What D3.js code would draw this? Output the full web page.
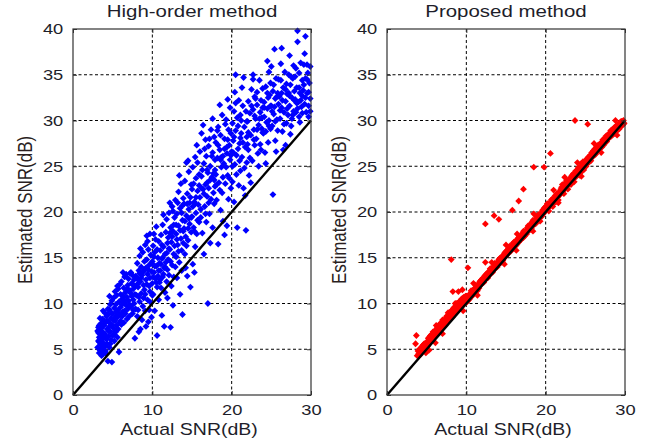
<!DOCTYPE html>
<html><head><meta charset="utf-8">
<script src="https://cdn.jsdelivr.net/npm/d3@7"></script>
<style>body{margin:0;background:#fff}svg{display:block}</style>
</head><body>
<script>
const titles = ["High-order method", "Proposed method"];
const xLabel = "Actual SNR(dB)";
const yLabel = "Estimated SNR(dB)";
const xTicks = [0, 10, 20, 30];
const yTicks = [0, 5, 10, 15, 20, 25, 30, 35, 40];
const refLine = [[0, 0], [30, 30]];

const highOrderPoints = [
[3.1,5.2],[3.2,6.8],[3.2,7.4],[3.3,4.6],[3.3,5.8],[3.3,6.3],[3.4,7.1],[3.4,4.9],[3.5,5.5],[3.5,6.6],[3.5,7.8],[3.6,4.3],[3.6,6.0],[3.6,7.3],[3.7,5.1],[3.7,6.9],[3.8,9.2],[3.8,5.7],[3.8,4.5],[3.9,6.4],[3.9,7.6],[3.9,8.1],[3.2,5.9],[3.4,6.1],[3.7,8.3],[3.1,7.0],[3.5,4.8],
[4.0,5.3],[4.0,6.7],[4.1,7.9],[4.1,4.8],[4.2,6.1],[4.2,8.6],[4.3,5.6],[4.3,7.2],[4.4,3.7],[4.4,9.4],[4.5,6.4],[4.5,8.0],[4.6,5.2],[4.6,7.5],[4.7,6.9],[4.7,9.9],[4.8,8.4],[4.8,6.0],[4.9,3.6],[4.9,7.7],[4.9,10.3],[4.2,4.5],[4.6,10.8],[4.4,8.8],
[5.0,6.5],[5.0,8.9],[5.1,7.3],[5.1,10.6],[5.2,5.9],[5.2,9.5],[5.3,8.1],[5.3,11.3],[5.4,6.9],[5.4,9.9],[5.5,7.6],[5.5,10.9],[5.6,8.5],[5.6,6.3],[5.7,9.3],[5.7,11.6],[5.8,4.7],[5.8,10.2],[5.9,7.9],[5.9,8.8],[5.3,7.0],[5.6,11.9],[5.9,12.1],
[6.0,9.6],[6.0,11.0],[6.1,7.7],[6.1,12.4],[6.2,8.6],[6.2,10.5],[6.3,13.4],[6.3,9.1],[6.4,11.7],[6.4,7.9],[6.5,10.1],[6.5,12.9],[6.6,8.9],[6.6,11.2],[6.7,9.8],[6.7,13.2],[6.8,10.7],[6.8,8.3],[6.9,12.0],[6.9,9.4],[6.3,10.8],[6.6,13.0],
[7.0,10.3],[7.0,12.7],[7.1,8.6],[7.2,11.4],[7.2,13.3],[7.3,9.7],[7.4,12.2],[7.4,10.8],[7.5,8.9],[7.5,13.1],[7.6,11.6],[7.7,10.0],[7.7,12.6],[7.8,6.2],[7.8,11.0],[7.9,9.4],[7.9,13.0],[7.3,13.4],[7.6,9.3],
[8.0,10.9],[8.0,12.9],[8.1,8.6],[8.1,14.4],[8.2,11.8],[8.3,6.9],[8.3,13.6],[8.4,10.2],[8.4,15.2],[8.5,7.2],[8.5,12.4],[8.6,11.1],[8.6,14.0],[8.7,8.2],[8.7,13.1],[8.8,9.7],[8.8,15.6],[8.9,12.0],[8.9,10.6],[8.2,9.3],[8.5,16.0],
[9.0,11.5],[9.0,13.7],[9.1,9.2],[9.1,16.4],[9.2,7.5],[9.2,12.6],[9.3,17.4],[9.3,14.8],[9.4,10.4],[9.4,13.2],[9.5,8.0],[9.5,15.9],[9.6,11.9],[9.6,14.2],[9.7,12.8],[9.7,17.6],[9.8,10.1],[9.8,15.3],[9.9,13.5],[9.9,8.5],[9.4,16.8],[9.6,9.3],
[10.0,12.2],[10.0,14.6],[10.1,11.0],[10.1,16.3],[10.2,13.4],[10.3,9.2],[10.3,15.6],[10.4,12.7],[10.4,17.0],[10.5,14.1],[10.6,6.5],[10.6,11.8],[10.7,15.0],[10.7,13.0],[10.8,16.8],[10.8,10.4],[10.9,14.4],[10.9,12.3],[10.2,17.6],[10.5,18.4],
[11.0,13.6],[11.0,15.8],[11.1,11.7],[11.1,17.5],[11.2,8.7],[11.2,14.9],[11.3,12.9],[11.3,18.6],[11.4,16.2],[11.5,7.5],[11.5,13.9],[11.6,15.4],[11.6,11.2],[11.7,17.8],[11.7,14.5],[11.8,12.4],[11.8,19.2],[11.9,16.6],[11.9,10.6],[11.4,19.7],
[12.0,14.8],[12.0,17.2],[12.1,13.1],[12.1,19.9],[12.2,15.9],[12.3,7.4],[12.3,18.3],[12.4,11.9],[12.4,16.7],[12.5,14.2],[12.5,20.6],[12.6,9.8],[12.6,17.9],[12.7,15.4],[12.7,12.9],[12.8,19.4],[12.8,16.3],[12.9,21.3],[12.9,14.0],[12.2,21.0],
[13.0,17.6],[13.0,15.1],[13.1,19.8],[13.1,12.8],[13.2,16.4],[13.3,22.2],[13.3,18.5],[13.4,14.5],[13.5,11.0],[13.5,20.4],[13.6,17.1],[13.6,23.1],[13.7,15.8],[13.8,8.8],[13.8,19.1],[13.9,21.5],[13.9,16.6],[13.4,24.0],[13.7,13.6],
[14.0,18.2],[14.0,20.9],[14.1,15.4],[14.1,23.4],[14.2,17.3],[14.3,25.4],[14.3,19.6],[14.4,13.0],[14.4,22.0],[14.5,16.9],[14.6,20.3],[14.6,24.4],[14.7,18.7],[14.8,11.8],[14.8,21.6],[14.9,17.8],[14.9,23.0],[14.5,25.6],[14.2,13.9],
[15.0,19.5],[15.0,22.5],[15.1,14.3],[15.1,24.9],[15.2,18.3],[15.3,13.4],[15.3,21.1],[15.4,26.0],[15.5,19.9],[15.5,23.7],[15.6,17.6],[15.7,22.3],[15.7,25.4],[15.8,20.8],[15.9,18.9],[15.9,24.1],[15.4,16.2],[15.6,27.3],
[16.0,21.6],[16.0,26.6],[16.1,19.4],[16.2,23.9],[16.2,28.6],[16.3,17.7],[16.4,22.5],[16.5,15.4],[16.5,25.3],[16.6,20.6],[16.7,27.9],[16.7,23.0],[16.8,18.9],[16.9,24.6],[16.9,21.7],[17.0,10.0],[16.4,29.5],[16.8,26.1],
[17.1,22.6],[17.1,27.2],[17.2,19.8],[17.3,25.0],[17.4,29.0],[17.4,21.4],[17.5,23.8],[17.6,18.3],[17.6,26.5],[17.7,24.2],[17.8,28.2],[17.8,20.9],[17.9,22.8],[17.9,25.7],[17.3,16.6],[17.6,30.2],
[18.0,24.1],[18.0,27.6],[18.1,21.3],[18.2,25.9],[18.3,16.5],[18.3,29.3],[18.4,23.2],[18.5,26.8],[18.6,20.2],[18.6,28.4],[18.7,24.9],[18.8,22.1],[18.8,30.6],[18.9,26.1],[18.9,19.0],[18.5,31.7],
[19.0,25.3],[19.1,17.5],[19.1,28.0],[19.2,23.1],[19.3,30.1],[19.4,18.5],[19.4,26.4],[19.5,24.0],[19.6,29.0],[19.6,21.4],[19.7,27.3],[19.8,31.4],[19.8,25.7],[19.9,22.6],[19.9,28.6],[19.5,32.3],
[20.0,26.6],[20.1,23.3],[20.1,29.7],[20.2,27.8],[20.3,21.1],[20.3,31.0],[20.4,25.2],[20.5,35.0],[20.5,28.9],[20.6,24.1],[20.7,18.3],[20.7,30.3],[20.8,26.9],[20.9,22.9],[20.9,32.2],[20.4,33.1],
[21.0,27.5],[21.1,30.6],[21.1,24.5],[21.2,28.6],[21.3,26.0],[21.4,31.6],[21.5,34.7],[21.5,22.6],[21.6,29.3],[21.7,27.1],[21.8,18.0],[21.8,31.0],[21.9,25.4],[21.9,28.2],[21.3,33.6],[21.7,21.8],
[22.0,29.9],[22.1,26.8],[22.1,32.1],[22.2,24.0],[22.3,30.8],[22.4,28.4],[22.5,33.4],[22.6,25.6],[22.7,35.0],[22.7,31.2],[22.7,34.5],[22.8,29.0],[22.9,27.3],[22.9,32.6],[22.4,23.2],
[23.0,30.2],[23.1,28.0],[23.2,31.7],[23.2,33.1],[23.3,26.4],[23.4,29.5],[23.5,34.4],[23.6,30.9],[23.6,27.4],[23.7,32.2],[23.8,29.1],[23.9,31.4],[23.9,33.5],[23.4,25.0],
[24.0,28.6],[24.1,32.0],[24.1,30.4],[24.2,26.5],[24.3,33.7],[24.4,29.8],[24.5,36.5],[24.5,31.3],[24.6,27.6],[24.7,35.3],[24.7,30.0],[24.8,32.8],[24.9,29.1],[24.9,34.1],[24.3,25.3],
[25.0,35.9],[25.0,31.6],[25.1,29.4],[25.2,21.9],[25.2,33.2],[25.3,30.7],[25.4,37.8],[25.5,32.4],[25.5,27.8],[25.6,34.6],[25.7,30.1],[25.8,33.0],[25.8,28.9],[25.9,31.8],[25.6,26.6],
[26.0,32.6],[26.1,30.2],[26.2,34.4],[26.3,37.9],[26.3,31.4],[26.4,28.8],[26.5,33.6],[26.6,30.9],[26.7,35.3],[26.8,32.1],[26.8,27.3],[26.9,34.0],[26.9,29.7],[26.5,26.8],[26.2,36.2],
[27.0,32.9],[27.1,30.6],[27.2,35.0],[27.3,37.1],[27.3,31.6],[27.4,33.9],[27.5,29.4],[27.6,32.5],[27.7,34.6],[27.8,31.0],[27.8,36.0],[27.9,33.2],[27.4,28.5],[27.6,30.2],
[28.0,32.3],[28.0,34.8],[28.1,30.9],[28.2,33.6],[28.3,38.6],[28.3,39.8],[28.4,32.0],[28.5,35.2],[28.6,33.0],[28.6,29.8],[28.7,36.3],[28.8,31.5],[28.9,34.4],[28.9,32.7],[28.5,30.4],
[29.0,33.3],[29.1,36.1],[29.2,31.8],[29.3,39.2],[29.3,34.6],[29.4,30.9],[29.5,36.1],[29.5,33.0],[29.6,35.2],[29.7,31.6],[29.8,34.1],[29.9,35.9],[29.9,32.4],[29.7,30.4],[29.2,37.3],
[5.1,8.2],[5.4,8.6],[5.7,7.2],[6.0,8.1],[6.2,9.9],[6.5,9.2],[6.8,11.6],[7.1,9.9],[7.3,11.1],[7.6,10.4],[7.9,11.9],[5.2,6.6],[5.5,9.1],[6.4,10.4],[7.0,11.5],[7.5,12.1],
[8.1,12.1],[8.3,10.7],[8.6,12.8],[8.9,13.5],[9.1,11.0],[9.3,12.1],[9.5,13.7],[9.7,11.3],[9.9,14.4],[10.1,12.9],[10.3,14.1],[10.5,12.3],[10.6,15.9],[10.8,13.6],[11.0,12.6],[11.2,16.4],[11.4,13.2],[11.6,14.0],[11.8,15.5],[11.9,13.7],[8.4,13.3],[9.0,14.6],[10.0,10.9],[11.1,14.3],
[12.1,16.0],[12.3,14.6],[12.5,17.3],[12.7,18.6],[12.9,15.2],[13.1,17.0],[13.3,15.7],[13.5,18.0],[13.7,19.9],[13.9,17.9],[14.1,19.0],[14.3,16.3],[14.5,18.2],[14.7,21.0],[14.9,19.4],[15.1,20.6],[15.3,17.9],[15.5,21.6],[15.7,19.1],[15.9,22.9],[12.6,20.1],[13.2,21.0],[14.4,20.9],[15.2,23.1],
[16.1,20.3],[16.3,24.6],[16.5,22.0],[16.7,19.8],[16.9,23.2],[17.1,21.0],[17.3,23.5],[17.5,26.1],[17.7,22.1],[17.9,24.6],[18.1,23.0],[18.3,27.3],[18.5,22.4],[18.7,26.0],[18.9,23.8],[19.1,26.9],[19.3,24.9],[19.5,27.9],[19.7,23.7],[19.9,26.2],[16.6,26.9],[17.2,28.0],[18.2,28.9],[19.2,29.6],
[20.1,25.0],[20.3,28.2],[20.6,26.2],[20.8,29.4],[21.0,25.6],[21.2,30.0],[21.4,27.6],[21.6,24.8],[21.9,29.9],[22.1,28.7],[22.3,25.9],[22.5,31.6],[22.8,27.9],[23.0,32.4],[23.2,29.0],[23.5,30.2],[23.7,26.8],[23.9,28.7],[24.1,31.4],[24.3,28.8],[24.5,33.0],[24.7,29.4],[24.9,31.6],[20.5,31.9],
[25.1,31.0],[25.3,33.9],[25.5,29.9],[25.7,32.6],[25.9,34.5],[26.1,31.1],[26.3,33.0],[26.6,29.6],[26.8,33.4],[27.0,31.3],[27.2,33.0],[27.5,34.8],[27.7,30.6],[27.9,32.2],[28.1,35.7],[28.3,31.3],[28.5,33.6],[28.7,32.2],[28.9,30.8],[29.1,33.9],[29.3,32.5],[29.5,34.5],[29.7,33.1],[29.9,31.0],
[3.3,7.6],[3.5,6.2],[3.7,5.5],[3.9,5.2],[4.1,6.5],[4.3,8.1],[4.5,7.0],[4.7,5.6],[4.9,8.9],[3.4,8.4],[4.0,9.0],[4.6,9.3],
[8.2,12.6],[9.2,13.9],[10.2,15.1],[11.3,15.0],[12.2,17.7],[13.0,18.6],[13.8,20.7],[14.6,19.3],[15.4,20.9],[16.2,22.6],[17.0,24.3],[17.8,23.5],[18.6,25.7],[19.4,27.1],[20.2,26.5],[21.1,28.1],[22.0,27.4],[22.9,30.5],[23.8,30.3],[24.6,32.5],[25.4,31.5],[26.4,32.2],[27.3,32.7],[28.2,31.9]
];

const proposedPoints = [
[3.6,5.6],[3.7,6.5],[8.1,14.8],[8.3,11.3],[9.0,11.3],[9.5,11.5],[10.2,13.9],[12.4,14.5],[12.4,18.7],[13.5,19.6],[14.1,19.2],[15.8,20.2],[16.6,21.2],[17.2,22.5],[18.5,24.9],[19.8,24.9],[20.6,26.4],[23.7,30.0],[25.3,29.6],
[3.8,4.3],[3.9,4.8],[4.0,4.5],[4.1,5.0],[4.2,4.4],[4.3,5.2],[4.4,4.7],[4.5,5.4],[4.6,4.9],[4.7,5.6],[4.8,5.1],[4.9,4.6],[5.0,5.8],[5.1,5.3],[5.2,6.2],[5.3,5.6],[5.4,6.4],[5.5,5.9],[5.6,6.6],[5.7,6.1],[5.8,6.9],[5.9,6.3],
[6.0,6.6],[6.1,7.1],[6.2,6.5],[6.3,7.3],[6.4,6.9],[6.5,7.6],[6.6,7.0],[6.7,7.4],[6.8,7.9],[6.9,7.2],[7.0,7.7],[7.1,8.1],[7.2,7.5],[7.3,8.3],[7.4,7.8],[7.5,8.6],[7.6,8.0],[7.7,8.4],[7.8,8.9],[7.9,8.2],
[8.0,8.7],[8.1,9.2],[8.2,8.5],[8.3,9.0],[8.4,9.5],[8.5,8.8],[8.6,9.3],[8.7,9.8],[8.8,9.1],[8.9,9.6],[9.0,10.1],[9.1,9.4],[9.2,9.9],[9.3,10.3],[9.4,9.7],[9.5,10.2],[9.6,10.6],[9.7,9.9],[9.8,10.4],[9.9,10.8],
[10.0,10.1],[10.1,10.6],[10.2,10.3],[10.3,10.9],[10.4,10.5],[10.5,11.1],[10.6,10.7],[10.7,11.3],[10.8,10.9],[10.9,11.5],[11.0,11.1],[11.1,11.7],[11.2,11.3],[11.3,11.9],[11.4,11.4],[11.5,12.1],[11.6,11.7],[11.7,12.4],[11.8,12.0],[11.9,12.6],
[12.0,12.2],[12.1,12.8],[12.2,12.3],[12.3,13.0],[12.4,12.6],[12.5,13.2],[12.6,12.9],[12.7,13.4],[12.8,13.0],[12.9,13.5],[13.0,13.2],[13.1,13.8],[13.2,13.4],[13.3,13.9],[13.4,13.6],[13.5,14.2],[13.6,13.8],[13.7,14.3],[13.8,14.0],[13.9,14.5],
[14.0,14.2],[14.1,14.8],[14.2,14.4],[14.3,15.0],[14.4,14.5],[14.5,15.1],[14.6,14.7],[14.7,15.3],[14.8,15.0],[14.9,15.6],[15.0,15.2],[15.1,15.8],[15.2,15.4],[15.3,16.0],[15.4,15.6],[15.5,16.3],[15.6,15.7],[15.7,16.2],[15.8,16.0],[15.9,16.6],
[16.0,16.1],[16.1,16.7],[16.2,16.3],[16.3,16.9],[16.4,16.5],[16.5,17.1],[16.6,16.7],[16.7,17.3],[16.8,16.9],[16.9,17.4],[17.0,17.1],[17.1,17.7],[17.2,17.2],[17.3,17.8],[17.4,17.4],[17.5,18.0],[17.6,17.6],[17.7,18.3],[17.8,17.9],[17.9,18.4],
[18.0,18.1],[18.1,18.7],[18.2,18.2],[18.3,18.9],[18.4,18.5],[18.5,19.0],[18.6,18.7],[18.7,19.2],[18.8,18.8],[18.9,19.5],[19.0,19.1],[19.1,19.7],[19.2,19.3],[19.3,19.0],[19.4,19.9],[19.5,19.5],[19.6,20.2],[19.7,19.8],[19.8,20.4],[19.9,20.0],
[20.0,20.6],[20.1,20.3],[20.2,20.9],[20.3,20.4],[20.4,20.1],[20.5,21.0],[20.6,20.7],[20.7,21.3],[20.8,20.9],[20.9,20.6],[21.0,21.5],[21.1,21.2],[21.2,21.8],[21.3,21.1],[21.4,22.0],[21.5,21.6],[21.6,21.3],[21.7,22.2],[21.8,21.9],[21.9,22.5],
[22.0,22.1],[22.1,23.0],[22.2,22.3],[22.3,22.0],[22.4,23.1],[22.5,22.6],[22.6,23.4],[22.7,22.8],[22.8,22.5],[22.9,23.5],[23.0,23.1],[23.1,23.7],[23.2,23.0],[23.3,24.0],[23.4,23.5],[23.5,24.2],[23.6,23.3],[23.7,24.1],[23.8,24.5],[23.9,23.9],
[24.0,24.6],[24.1,24.2],[24.2,24.9],[24.3,24.0],[24.4,24.5],[24.5,25.3],[24.6,24.7],[24.7,25.5],[24.8,24.6],[24.9,25.2],[25.0,25.6],[25.1,25.0],[25.2,25.8],[25.3,25.3],[25.4,26.0],[25.5,25.5],[25.6,26.2],[25.7,25.6],[25.8,26.5],[25.9,26.0],
[26.0,26.7],[26.1,26.2],[26.2,26.9],[26.3,26.3],[26.4,27.1],[26.5,26.6],[26.6,27.3],[26.7,26.8],[26.8,27.4],[26.9,27.0],[27.0,27.6],[27.1,27.1],[27.2,27.9],[27.3,27.3],[27.4,28.0],[27.5,27.6],[27.6,28.3],[27.7,27.7],[27.8,28.4],[27.9,28.0],
[28.0,28.6],[28.1,28.2],[28.2,28.9],[28.3,28.3],[28.4,29.0],[28.5,28.5],[28.6,29.2],[28.7,28.6],[28.8,29.3],[28.9,28.8],[29.0,29.5],[29.1,29.0],[29.2,29.6],[29.3,29.1],[29.4,29.8],[29.5,29.4],[29.6,29.9],[29.7,29.5],[29.8,30.0],[29.9,29.7],
[5.3,4.9],[6.1,5.7],[7.0,6.7],[9.6,9.2],[11.4,10.9],[14.8,14.3],[16.3,15.8],[18.4,17.9],[21.6,21.0],[24.5,23.9],[27.0,26.5],[29.0,28.4],
[6.2,7.6],[7.7,9.0],[8.6,10.0],[10.9,12.2],[13.2,14.5],[15.0,16.4],[16.4,17.6],[18.5,19.8],[21.0,22.4],[22.4,23.8],[24.0,25.4],[26.1,27.5],[28.8,30.0],
[4.0,4.9],[4.3,4.6],[4.6,5.5],[4.9,5.3],[5.2,5.5],[5.5,6.5],[5.8,6.3],[6.1,6.8],[6.4,7.5],[6.7,7.0],[7.0,8.2],[7.3,7.7],[7.6,8.6],[7.9,8.9],[8.2,9.3],[8.5,9.6],[8.8,10.0],[9.1,10.2],[9.4,10.5],[9.7,10.7],
[10.0,10.8],[10.3,10.4],[10.6,11.4],[10.9,11.0],[11.2,12.0],[11.5,11.6],[11.8,12.5],[12.1,12.3],[12.4,13.1],[12.7,12.8],[13.0,13.8],[13.3,13.4],[13.6,14.4],[13.9,14.0],[14.2,14.9],[14.5,14.6],[14.8,15.5],[15.1,15.3],[15.4,16.1],[15.7,15.9],
[16.0,16.7],[16.3,16.4],[16.6,17.2],[16.9,17.0],[17.2,17.9],[17.5,17.6],[17.8,18.5],[18.1,18.1],[18.4,19.1],[18.7,18.7],[19.0,19.6],[19.3,19.5],[19.6,19.7],[19.9,20.5],[20.2,20.4],[20.5,20.6],[20.8,21.4],[21.1,21.0],[21.4,21.7],[21.7,21.8],
[22.0,22.7],[22.3,22.6],[22.6,22.9],[22.9,23.1],[23.2,23.8],[23.5,23.6],[23.8,23.9],[24.1,24.8],[24.4,24.3],[24.7,25.0],[25.0,25.2],[25.3,25.9],[25.6,25.7],[25.9,26.4],[26.2,26.4],[26.5,27.1],[26.8,26.9],[27.1,27.5],[27.4,27.5],[27.7,28.2],
[28.0,28.3],[28.3,28.8],[28.6,28.8],[28.9,29.4],[29.2,29.3],[29.5,29.9],[29.8,29.6]
];

const W = 657, H = 444;
const svg = d3.select("body").append("svg").attr("width", W).attr("height", H)
  .style("font-family", "'Liberation Sans', Arial, sans-serif");

const panels = [
  {left: 73, right: 311, title: titles[0], data: highOrderPoints, color: "#0000ff"},
  {left: 387, right: 625, title: titles[1], data: proposedPoints, color: "#ff0000"}
];
const plotTop = 29, plotBottom = 395;
const SX = 1.22; // horizontal glyph stretch seen in reference
const textColor = "#1e1e2a";
const marker = "M0,-3.4L3.4,0L0,3.4L-3.4,0Z";

panels.forEach(p => {
  const x = d3.scaleLinear().domain([0, 30]).range([p.left, p.right]);
  const y = d3.scaleLinear().domain([0, 40]).range([plotBottom, plotTop]);
  const g = svg.append("g");

  g.append("g").selectAll("line").data(xTicks.slice(1, -1)).join("line")
    .attr("x1", d => x(d)).attr("x2", d => x(d)).attr("y1", plotTop).attr("y2", plotBottom)
    .attr("stroke", "#000").attr("stroke-width", 1).attr("stroke-dasharray", "3,2.5");
  g.append("g").selectAll("line").data(yTicks.slice(1, -1)).join("line")
    .attr("x1", p.left).attr("x2", p.right).attr("y1", d => y(d)).attr("y2", d => y(d))
    .attr("stroke", "#000").attr("stroke-width", 1).attr("stroke-dasharray", "3,2.5");

  g.append("g").selectAll("path").data(p.data).join("path")
    .attr("d", marker)
    .attr("transform", d => `translate(${x(d[0])},${y(d[1])})`)
    .attr("fill", p.color);

  g.append("path").datum(refLine)
    .attr("d", d3.line().x(d => x(d[0])).y(d => y(d[1])))
    .attr("stroke", "#000").attr("stroke-width", 2.4).attr("fill", "none");

  const ax = g.append("g").attr("transform", `translate(0,${plotBottom})`)
    .call(d3.axisBottom(x).tickValues(xTicks).tickSizeInner(-4).tickSizeOuter(0).tickPadding(9));
  ax.selectAll("text").attr("font-size", 15).attr("fill", textColor).attr("transform", `scale(${SX},1)`);
  const ay = g.append("g").attr("transform", `translate(${p.left},0)`)
    .call(d3.axisLeft(y).tickValues(yTicks).tickSizeInner(-4).tickSizeOuter(0).tickPadding(8));
  ay.selectAll("text").attr("font-size", 15).attr("fill", textColor).attr("transform", `scale(${SX},1)`);
  const at = g.append("g").attr("transform", `translate(0,${plotTop})`)
    .call(d3.axisTop(x).tickValues(xTicks).tickSizeInner(-4).tickSizeOuter(0).tickFormat(""));
  const ar = g.append("g").attr("transform", `translate(${p.right},0)`)
    .call(d3.axisRight(y).tickValues(yTicks).tickSizeInner(-4).tickSizeOuter(0).tickFormat(""));
  [ax, ay, at, ar].forEach(a => { a.select(".domain").remove(); a.selectAll("line").attr("stroke", "#333"); });

  g.append("rect").attr("x", p.left).attr("y", plotTop)
    .attr("width", p.right - p.left).attr("height", plotBottom - plotTop)
    .attr("fill", "none").attr("stroke", "#333").attr("stroke-width", 1.2);

  const cx = (p.left + p.right) / 2;
  g.append("text").text(p.title)
    .attr("transform", `translate(${cx},17) scale(1.24,1)`)
    .attr("text-anchor", "middle").attr("font-size", 16.5).attr("fill", textColor);
  g.append("text").text(xLabel)
    .attr("transform", `translate(${cx - 3},435) scale(1.22,1)`)
    .attr("text-anchor", "middle").attr("font-size", 16).attr("fill", textColor);
  g.append("text").text(yLabel)
    .attr("transform", `translate(${p.left - 41},${(plotTop + plotBottom) / 2 - 2}) scale(1.22,1) rotate(-90)`)
    .attr("text-anchor", "middle").attr("font-size", 17).attr("fill", "#2a1e1e");
});
</script>
</body></html>
